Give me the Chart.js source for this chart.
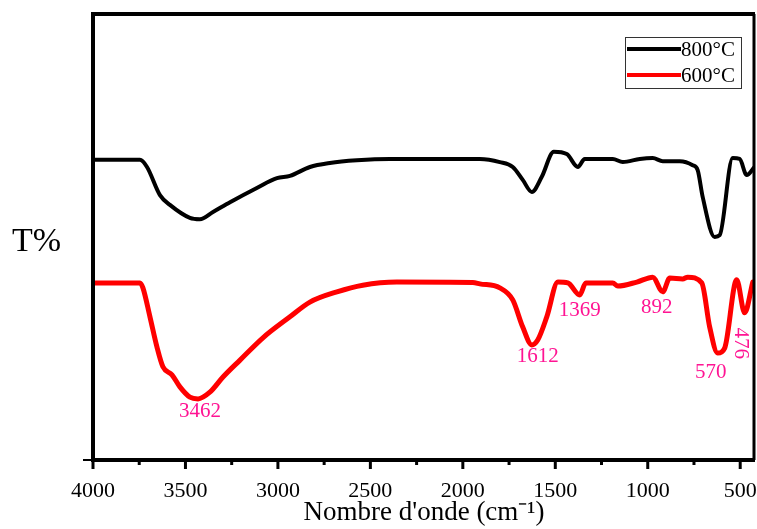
<!DOCTYPE html>
<html><head><meta charset="utf-8">
<script src="https://cdn.jsdelivr.net/npm/chart.js@4"></script>
<style>html,body{margin:0;padding:0;background:#fff;overflow:hidden}#wrap{width:757px;height:529px;position:relative}</style>
</head><body><div id="wrap"><canvas id="c"></canvas></div>
<script>
const seriesLabels = ['800°C', '600°C'];
const wn800 = [4000,3746,3708,3638,3584,3476,3422,3351,3259,3114,3005,2935,2827,2719,2573,2395,1908,1800,1730,1676,1627,1573,1508,1438,1378,1341,1189,1135,1043,973,919,827,757,730,703,638,611,541,503,465,422];
const t800  = [67.3,67.3,65.7,59.4,57.2,54.3,54.0,55.6,57.8,61.0,63.2,63.7,65.7,66.6,67.2,67.5,67.5,66.8,65.7,62.8,60.1,63.5,69.1,68.6,65.7,67.5,67.5,66.8,67.5,67.7,67.0,67.0,66.1,65.0,59.0,50.0,50.4,67.7,67.5,63.9,65.7];
const wn600 = [4000,3746,3730,3692,3654,3622,3573,3530,3476,3432,3368,3297,3205,3081,2935,2827,2681,2541,2357,1946,1908,1800,1730,1676,1627,1595,1546,1486,1432,1368,1335,1189,1162,1059,973,919,881,811,784,708,665,622,584,519,476,432];
const t600  = [39.7,39.7,38.6,32.1,25.3,20.9,19.1,16.4,14.1,13.7,15.2,18.6,22.4,27.4,32.1,35.4,37.7,39.2,39.9,39.8,39.5,38.6,35.9,29.8,25.8,26.9,32.1,39.9,39.7,37.0,39.7,39.7,39.0,39.9,41.0,37.7,40.8,40.6,41.0,39.7,29.8,24.0,25.1,40.4,33.0,39.9];
const xTickValues = [4000,3500,3000,2500,2000,1500,1000,500];
const xMinorTickValues = [3750,3250,2750,2250,1750,1250,750];
const peakLabels = ['3462','1612','1369','892','570','476'];
const peakLabelX = [3422,1595,1368,951,659,497];
const peakLabelY = [10.8,23.1,33.6,34.3,19.7,26.2];
const peakLabelRotation = [0,0,0,0,0,90];
const yTitle = 'T%';
const xTitle = "Nombre d'onde (cm⁻¹)";

const colors = ['#000000', '#ff0000'];
const SERIF = '"Liberation Serif", "Times New Roman", serif';

const decor = {
  id: 'decor',
  afterDraw(chart) {
    const ctx = chart.ctx, a = chart.chartArea, xs = chart.scales.x;
    ctx.save();
    ctx.strokeStyle = '#000';
    ctx.lineWidth = 4;
    ctx.beginPath();
    ctx.moveTo(a.right, a.top); ctx.lineTo(a.left, a.top); ctx.lineTo(a.left, a.bottom); ctx.lineTo(a.right, a.bottom);
    ctx.stroke();
    ctx.lineWidth = 3;
    ctx.beginPath(); ctx.moveTo(a.right - 1, a.top); ctx.lineTo(a.right - 1, a.bottom); ctx.stroke();
    ctx.lineWidth = 3;
    xTickValues.forEach(v => { const p = xs.getPixelForValue(v); ctx.beginPath(); ctx.moveTo(p, a.bottom); ctx.lineTo(p, a.bottom + 9); ctx.stroke(); });
    xMinorTickValues.forEach(v => { const p = xs.getPixelForValue(v); ctx.beginPath(); ctx.moveTo(p, a.bottom); ctx.lineTo(p, a.bottom + 5); ctx.stroke(); });
    ctx.lineWidth = 2;
    ctx.beginPath(); ctx.moveTo(a.left - 10, a.bottom); ctx.lineTo(a.left, a.bottom); ctx.stroke();
    ctx.fillStyle = '#000';
    ctx.font = '34px ' + SERIF;
    ctx.textAlign = 'left'; ctx.textBaseline = 'middle';
    ctx.fillText(yTitle, 12, 242);
    const lx = a.right - 130, ly = a.top + 23, lw = 116, lh = 51;
    ctx.lineWidth = 1; ctx.strokeStyle = '#333';
    ctx.strokeRect(lx + 0.5, ly + 0.5, lw, lh);
    chart.data.datasets.forEach((ds, i) => {
      const yy = ly + 12 + i * 26;
      ctx.strokeStyle = ds.borderColor; ctx.lineWidth = 4;
      ctx.beginPath(); ctx.moveTo(lx + 2, yy); ctx.lineTo(lx + 56, yy); ctx.stroke();
      ctx.fillStyle = '#000'; ctx.font = '21px ' + SERIF; ctx.textAlign = 'left'; ctx.textBaseline = 'middle';
      ctx.fillText(ds.label, lx + 56, yy + 1);
    });
    ctx.fillStyle = '#ff1493';
    ctx.font = '21px ' + SERIF;
    ctx.textAlign = 'center'; ctx.textBaseline = 'middle';
    peakLabels.forEach((t, i) => {
      const px = xs.getPixelForValue(peakLabelX[i]), py = chart.scales.y.getPixelForValue(peakLabelY[i]);
      ctx.save(); ctx.translate(px, py); ctx.rotate(peakLabelRotation[i] * Math.PI / 180);
      ctx.fillText(t, 0, 0); ctx.restore();
    });
    ctx.restore();
  }
};

new Chart(document.getElementById('c'), {
  type: 'line',
  data: {
    datasets: [
      { label: seriesLabels[0], data: wn800.map((x, i) => ({x, y: t800[i]})), borderColor: colors[0], borderWidth: 4 },
      { label: seriesLabels[1], data: wn600.map((x, i) => ({x, y: t600[i]})), borderColor: colors[1], borderWidth: 5 }
    ]
  },
  options: {
    responsive: true, maintainAspectRatio: false, animation: false,
    devicePixelRatio: 1,
    layout: { padding: { left: 93, right: 2, top: 14, bottom: 0 } },
    elements: { point: { radius: 0 }, line: { cubicInterpolationMode: 'monotone', borderJoinStyle: 'round', borderCapStyle: 'round' } },
    plugins: { legend: { display: false }, tooltip: { enabled: false } },
    scales: {
      x: {
        type: 'linear', reverse: true, min: 420, max: 4000,
        grid: { display: false }, border: { display: false },
        afterBuildTicks: s => { s.ticks = xTickValues.map(v => ({ value: v })); },
        afterFit: s => { s.height = 69; s.paddingLeft = 0; s.paddingRight = 0; },
        ticks: { autoSkip: false, maxRotation: 0, padding: 10, color: '#000', font: { family: SERIF, size: 22 }, callback: v => String(v) },
        title: { display: true, text: xTitle, color: '#000', font: { family: SERIF, size: 27 }, padding: { top: 0, bottom: 0 } }
      },
      y: { display: false, min: 0, max: 100 }
    }
  },
  plugins: [decor]
});
</script></body></html>
